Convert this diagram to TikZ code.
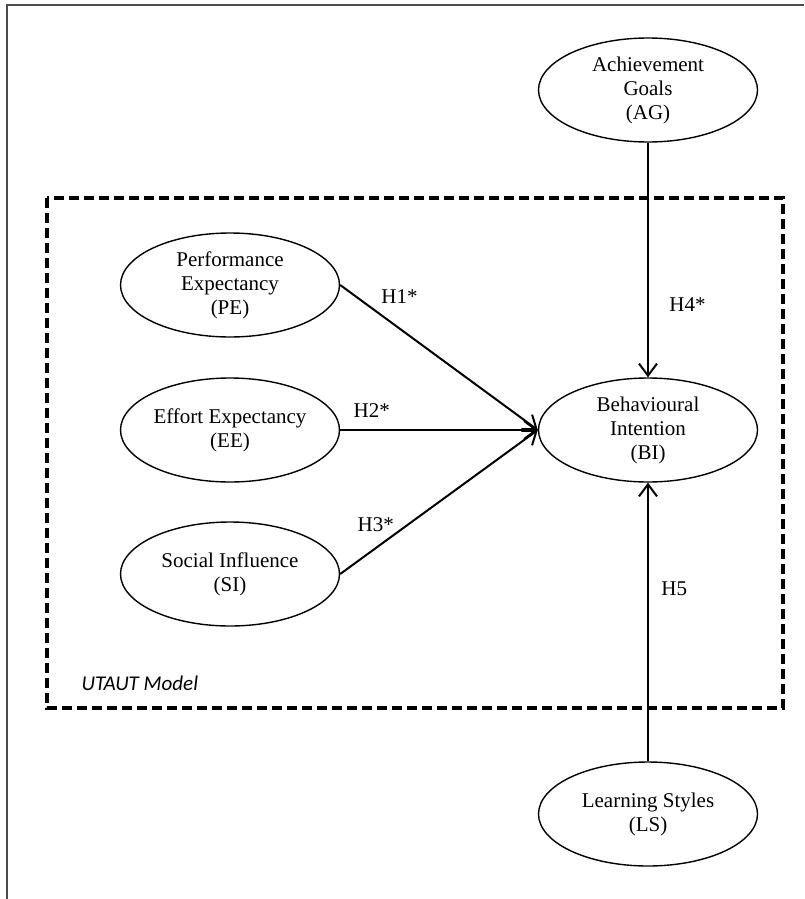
\documentclass[tikz,border=0pt]{standalone}
\usepackage{fontspec}
\setmainfont{Liberation Serif}
\newfontfamily\notefont{Carlito}
\usetikzlibrary{shapes.geometric, positioning, arrows.meta}

\begin{document}
\begin{tikzpicture}[x=1pt, y=-1pt, on grid,
		construct/.style={ellipse,
			draw=black,
			line width=1.4pt,
			minimum width=219pt,
			minimum height=104pt,
			inner sep=0pt,
			align=center,
			font=\fontsize{21}{24}\selectfont},
		hyp/.style={line width=2pt,
			-{Straight Barb[length=12pt, width=18pt]}},
		hyplabel/.style={font=\fontsize{21}{24}\selectfont}]

	\useasboundingbox (0,0) rectangle (804,899);

	% Page frame (cut off at right and bottom)
	\draw[line width=2pt, draw=black!70] (804,5) -- (7,5) -- (7,899);

	% UTAUT box
	\coordinate (boxnw) at (47,198);
	\coordinate (boxse) at (783,708);
	\draw[line width=4pt, dash pattern=on 10pt off 5pt] (boxnw) rectangle (boxse);
	\node[anchor=west,
		  font=\notefont\itshape\fontsize{21}{24}\selectfont] (utaut) at (78,683) {UTAUT Model};

	% Add the constructs
	\node[construct] (ee) at (230,430) {Effort Expectancy\\(EE)};
	\node[construct,
		  above=145pt of ee] (pe) {Performance\\Expectancy\\(PE)};
	\node[construct,
		  below=144pt of ee] (si) {Social Influence\\(SI)};
	\node[construct,
		  right=418pt of ee] (bi) {Behavioural\\Intention\\(BI)};
	\node[construct,
		  above=340pt of bi] (ag) {Achievement\\Goals\\(AG)};
	\node[construct,
		  below=384pt of bi] (ls) {Learning Styles\\(LS)};

	% Hypotheses
	\draw[hyp] (pe.east) -- node[hyplabel, pos=.3, above=21pt] {H1*} (bi.west);
	\draw[hyp] (ee.east) -- node[hyplabel, pos=.16, above=8pt] {H2*} (bi.west);
	\draw[hyp] (si.east) -- node[hyplabel, pos=.18, above=12pt] {H3*} (bi.west);
	\draw[hyp] (ag) -- node[hyplabel, pos=.69, right=17pt] {H4*} (bi);
	\draw[hyp] (ls) -- node[hyplabel, pos=.62, right=9pt] {H5} (bi);
\end{tikzpicture}
\end{document}
